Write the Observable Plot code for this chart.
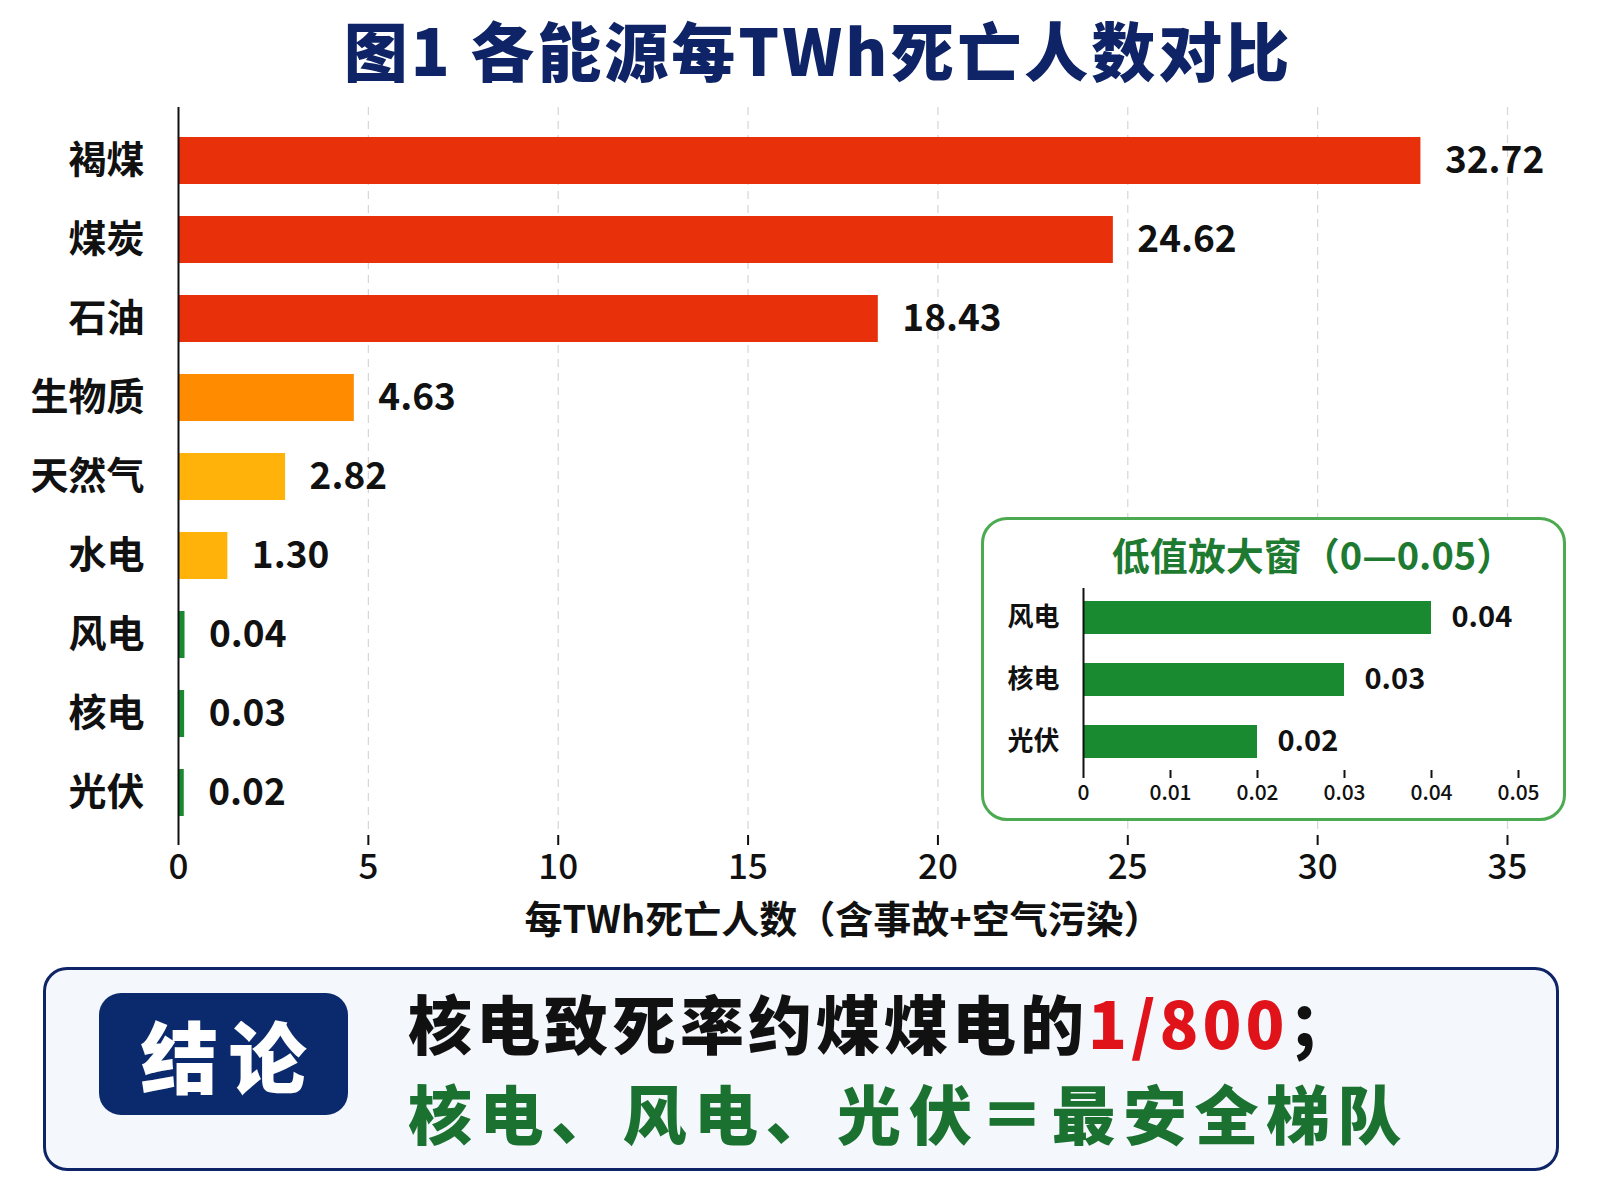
<!DOCTYPE html>
<html>
<head>
<meta charset="utf-8">
<script src="https://cdn.jsdelivr.net/npm/d3@7"></script>
<script src="https://cdn.jsdelivr.net/npm/@observablehq/plot@0.6"></script>
<style>
  html, body { margin: 0; padding: 0; background: #ffffff; }
  body { width: 1600px; height: 1200px; position: relative; overflow: hidden;
         font-family: "Noto Sans CJK SC", "Noto Sans", sans-serif; }
  #title { position: absolute; left: 18px; top: 10px; width: 1600px; text-align: center;
           font-size: 64px; line-height: 76px; font-weight: 900; color: #0e2466; letter-spacing: 3px; }
  #main { position: absolute; left: 0; top: 0; }
  #insetBox { position: absolute; left: 981px; top: 517px; width: 585px; height: 304px;
              box-sizing: border-box; border: 3px solid #4caa50; border-radius: 26px; background: #ffffff; }
  #insetTitle { position: absolute; left: 993px; top: 532px; width: 640px; text-align: center;
                font-size: 38px; line-height: 44px; font-weight: 700; color: #1d7a30; }
  #inset { position: absolute; left: 981px; top: 517px; }
  #concl { position: absolute; left: 43px; top: 967px; width: 1516px; height: 204px;
           box-sizing: border-box; border: 3px solid #0e2466; border-radius: 24px; background: #f4f7fc; }
  #badge { position: absolute; left: 99px; top: 993px; width: 249px; height: 122px;
           background: #0b2a6e; border-radius: 22px; color: #ffffff; font-size: 78px; font-weight: 900;
           line-height: 122px; text-align: center; letter-spacing: 10px; text-indent: 10px; }
  .line { position: absolute; left: 408px; font-size: 64px; line-height: 72px; font-weight: 900; white-space: nowrap; }
  #line1 { top: 985px; color: #111111; letter-spacing: 4px; }
  #line1 .red { color: #e0121a; }
  #line2 { top: 1075px; color: #1b7230; letter-spacing: 7.5px; }
</style>
</head>
<body>
<div id="title">图1 各能源每TWh死亡人数对比</div>
<div id="main"></div>
<div id="insetBox"></div>
<div id="inset"></div>
<div id="insetTitle">低值放大窗（0—0.05）</div>
<div id="concl"></div>
<div id="badge">结论</div>
<div id="line1" class="line">核电致死率约煤煤电的<span class="red">1/800</span>；</div>
<div id="line2" class="line">核电、风电、光伏＝最安全梯队</div>
<script>
// ---- data ----
const categories = ["褐煤", "煤炭", "石油", "生物质", "天然气", "水电", "风电", "核电", "光伏"];
const deathRates = [32.72, 24.62, 18.43, 4.63, 2.82, 1.30, 0.04, 0.03, 0.02];
const xTicks = [0, 5, 10, 15, 20, 25, 30, 35];
const xLabel = "每TWh死亡人数（含事故+空气污染）";

const insetCategories = ["风电", "核电", "光伏"];
const insetRates = [0.04, 0.03, 0.02];
const insetTicks = [0, 0.01, 0.02, 0.03, 0.04, 0.05];

const palette = ["#e8300a", "#e8300a", "#e8300a", "#ff8c00", "#ffb20a", "#ffb20a", "#1a8a30", "#1a8a30", "#1a8a30"];

const rows = categories.map((name, i) => ({name, value: deathRates[i]}));
const insetRows = insetCategories.map((name, i) => ({name, value: insetRates[i]}));

const FONT = "'Noto Sans CJK SC', 'Noto Sans', sans-serif";

const main = Plot.plot({
  width: 1600,
  height: 960,
  marginTop: 107,
  marginBottom: 125,
  marginLeft: 178,
  marginRight: 93,
  style: {fontFamily: FONT, background: "transparent", color: "#111"},
  x: {domain: [0, 35]},
  y: {domain: categories, paddingInner: 0.4, paddingOuter: 0.26, align: 0.62},
  color: {type: "ordinal", domain: categories, range: palette},
  marks: [
    Plot.gridX(xTicks.filter(d => d > 0), {stroke: "#d6d6d6", strokeOpacity: 1, strokeWidth: 1.2, strokeDasharray: "8,6"}),
    Plot.barX(rows, {filter: d => d.value >= 1, x: "value", y: "name", fill: "name"}),
    Plot.barX(rows, {filter: d => d.value < 1, x: "value", y: "name", fill: "name", insetRight: -5}),
    Plot.text(rows, {filter: d => d.value >= 1, x: "value", y: "name", text: d => d.value.toFixed(2), dx: 24,
      textAnchor: "start", fontSize: 37, fontWeight: 700, fill: "#111"}),
    Plot.text(rows, {filter: d => d.value < 1, x: "value", y: "name", text: d => d.value.toFixed(2), dx: 29,
      textAnchor: "start", fontSize: 37, fontWeight: 700, fill: "#111"}),
    Plot.ruleX([0], {stroke: "#111", strokeWidth: 2}),
    Plot.axisY({tickSize: 0, tickPadding: 34, fontSize: 38, fontWeight: 700, label: null}),
    Plot.axisX({ticks: xTicks, tickSize: 10, tickPadding: 9, fontSize: 35, fontWeight: 500, label: null,
      strokeWidth: 2, line: true, tickFormat: d => String(d)}),
    Plot.text([xLabel], {frameAnchor: "bottom", dy: 97, fontSize: 38, fontWeight: 700, fill: "#111",
      text: d => d, style: "letter-spacing: 1.3px"})
  ]
});
document.getElementById("main").appendChild(main);

const inset = Plot.plot({
  width: 585,
  height: 304,
  marginTop: 71,
  marginBottom: 51,
  marginLeft: 102,
  marginRight: 48,
  style: {fontFamily: FONT, background: "transparent", color: "#111"},
  x: {domain: [0, 0.05]},
  y: {domain: insetCategories, paddingInner: 0.47, paddingOuter: 0.2},
  marks: [
    Plot.barX(insetRows, {x: "value", y: "name", fill: "#1a8a30"}),
    Plot.text(insetRows, {x: "value", y: "name", text: d => d.value.toFixed(2), dx: 20,
      textAnchor: "start", fontSize: 29, fontWeight: 700, fill: "#111"}),
    Plot.ruleX([0], {stroke: "#111", strokeWidth: 2}),
    Plot.axisY({tickSize: 0, tickPadding: 24, fontSize: 26, fontWeight: 700, label: null}),
    Plot.axisX({ticks: insetTicks, tickSize: 8, tickPadding: 7, fontSize: 21, fontWeight: 500, label: null,
      strokeWidth: 2, line: true, tickFormat: d => d === 0 ? "0" : d.toFixed(2)})
  ]
});
document.getElementById("inset").appendChild(inset);
</script>
</body>
</html>
